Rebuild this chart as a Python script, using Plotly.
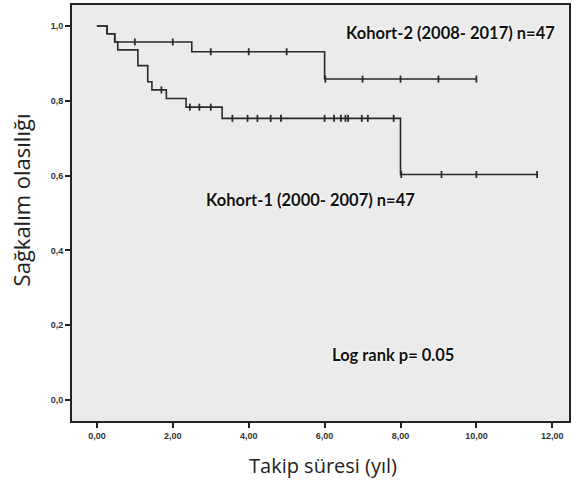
import numpy as np
import plotly.graph_objects as go

# Kohort-2 (2008-2017): event times and survival after each event
k2_event_t = [0.0, 0.27, 0.47, 2.50, 6.00]
k2_surv = [1.0, 0.979, 0.957, 0.931, 0.858]
k2_end = 10.0
k2_censor = [1.0, 2.0, 3.0, 4.0, 5.0, 6.02, 7.0, 8.0, 9.0, 10.0]

# Kohort-1 (2000-2007)
k1_event_t = [0.0, 0.27, 0.47, 0.55, 1.08, 1.34, 1.45, 1.83, 2.35, 3.30, 8.00]
k1_surv = [1.0, 0.979, 0.957, 0.936, 0.894, 0.851, 0.829, 0.806, 0.783, 0.753, 0.603]
k1_end = 11.6
k1_censor = [1.70, 2.45, 2.70, 3.00, 3.57, 3.97, 4.23, 4.58, 4.85, 6.00, 6.25, 6.43,
             6.55, 6.62, 6.98, 7.14, 7.82, 8.02, 9.08, 10.0, 11.6]

x_ticks = [0, 2, 4, 6, 8, 10, 12]
x_ticktext = ["0,00", "2,00", "4,00", "6,00", "8,00", "10,00", "12,00"]
y_ticks = [0, 0.2, 0.4, 0.6, 0.8, 1.0]
y_ticktext = ["0,0", "0,2", "0,4", "0,6", "0,8", "1,0"]

label_k2 = "Kohort-2 (2008- 2017) n=47"
label_k1 = "Kohort-1 (2000- 2007) n=47"
label_lr = "Log rank p= 0.05"


def surv_at(times, surv, t):
    idx = np.searchsorted(np.array(times), np.array(t), side="right") - 1
    return list(np.array(surv)[idx])


fig = go.Figure()
for ev, sv, end, cens in [(k2_event_t, k2_surv, k2_end, k2_censor),
                          (k1_event_t, k1_surv, k1_end, k1_censor)]:
    xs = list(ev) + [end]
    ys = list(sv) + [sv[-1]]
    fig.add_trace(go.Scatter(x=xs, y=ys, mode="lines", line_shape="hv",
                             line=dict(color="#2a2a2a", width=1.6),
                             showlegend=False, hoverinfo="skip"))
    fig.add_trace(go.Scatter(x=cens, y=surv_at(ev, sv, cens), mode="markers",
                             marker=dict(symbol="line-ns-open", size=5, color="#2a2a2a",
                                         line=dict(color="#2a2a2a", width=1.8)),
                             showlegend=False, hoverinfo="skip"))

halo = "0 0 2px #ffffff, 0 0 3px #ffffff"
bold_font = dict(family="Lato", size=16.5, color="#111111", weight="bold", shadow=halo)
fig.add_annotation(x=9.32, y=0.981, text=label_k2, showarrow=False, font=bold_font)
fig.add_annotation(x=5.64, y=0.535, text=label_k1, showarrow=False, font=bold_font)
fig.add_annotation(x=7.80, y=0.120, text=label_lr, showarrow=False, font=bold_font)

fig.add_annotation(xref="paper", yref="paper", x=-0.102, y=0.531,
                   text="Sağkalım olasılığı", textangle=-90, showarrow=False,
                   xanchor="center", yanchor="middle",
                   font=dict(family="Open Sans", size=22, color="#222222"))
fig.add_annotation(xref="paper", yref="paper", x=0.505, y=-0.106,
                   text="Takip süresi (yıl)", showarrow=False,
                   xanchor="center", yanchor="middle",
                   font=dict(family="Open Sans", size=20, color="#222222"))

tick_font = dict(family="Liberation Sans", size=9, color="#333333", weight="bold")
fig.update_xaxes(range=[-0.656, 12.44], tickvals=x_ticks, ticktext=x_ticktext,
                 ticks="outside", ticklen=5, tickwidth=1.5, tickcolor="#222",
                 showline=True, mirror=True, linecolor="#222", linewidth=2,
                 showgrid=False, zeroline=False, tickfont=tick_font)
fig.update_yaxes(range=[-0.056, 1.056], tickvals=y_ticks, ticktext=y_ticktext,
                 ticks="outside", ticklen=5, tickwidth=1.5, tickcolor="#222",
                 showline=True, mirror=True, linecolor="#222", linewidth=2,
                 showgrid=False, zeroline=False, tickfont=tick_font)
fig.update_layout(width=572, height=481,
                  margin=dict(l=72, r=1, t=5, b=60),
                  paper_bgcolor="#ffffff", plot_bgcolor="#ebebeb")
fig.write_html("out.html")
